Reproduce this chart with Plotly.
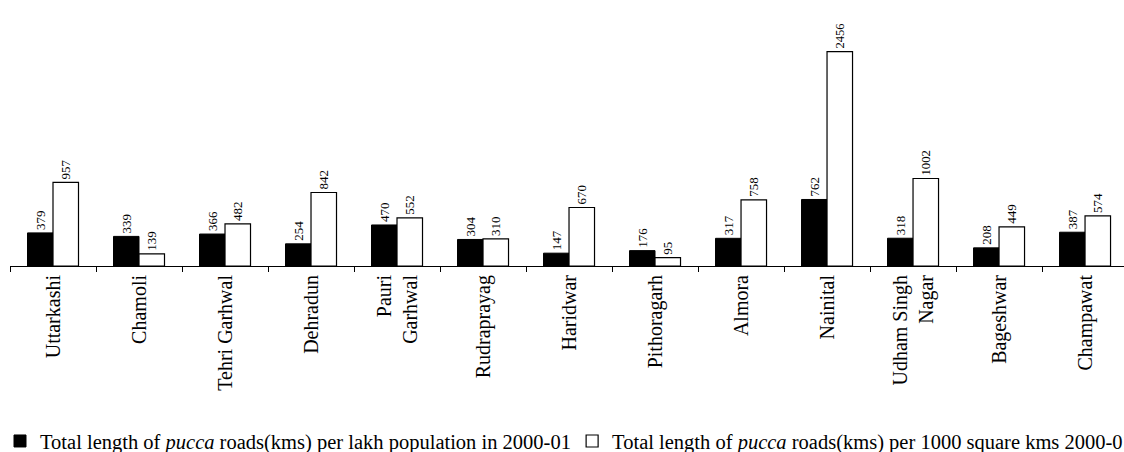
import plotly.graph_objects as go

districts = ["Uttarkashi", "Chamoli", "Tehri Garhwal", "Dehradun", "Pauri<br>Garhwal",
             "Rudraprayag", "Haridwar", "Pithoragarh", "Almora", "Nainital",
             "Udham Singh<br>Nagar", "Bageshwar", "Champawat"]
per_lakh_pop = [379, 339, 366, 254, 470, 304, 147, 176, 317, 762, 318, 208, 387]
per_1000_sqkm = [957, 139, 482, 842, 552, 310, 670, 95, 758, 2456, 1002, 449, 574]

name_pop = "Total length of <i>pucca</i> roads(kms) per lakh population in 2000-01"
name_area = "Total length of <i>pucca</i> roads(kms) per 1000 square kms 2000-01"

FONT = "Liberation Serif"

fig = go.Figure()
fig.add_trace(go.Bar(
    x=districts, y=per_lakh_pop, name=name_pop,
    marker=dict(color="black", line=dict(color="black", width=1)),
    text=per_lakh_pop, textposition="outside", textangle=-90,
    textfont=dict(family=FONT, size=13, color="black"),
    cliponaxis=False, legend="legend", showlegend=True,
))
fig.add_trace(go.Bar(
    x=districts, y=per_1000_sqkm, name=name_area,
    marker=dict(color="white", line=dict(color="black", width=1.2)),
    text=per_1000_sqkm, textposition="outside", textangle=-90,
    textfont=dict(family=FONT, size=13, color="black"),
    cliponaxis=False, legend="legend2", showlegend=True,
))

fig.update_layout(
    width=1124, height=452,
    margin=dict(l=10, r=0, t=10, b=186),
    paper_bgcolor="white", plot_bgcolor="white",
    barmode="group", bargap=0.407, bargroupgap=0,
    showlegend=True,
    font=dict(family=FONT, size=20, color="black"),
    xaxis=dict(
        type="category", range=[-0.5, 12.453], automargin=False,
        showline=True, linecolor="black", linewidth=1,
        ticks="outside", tickson="boundaries", ticklen=5, tickcolor="black",
        tickangle=-90, tickfont=dict(family=FONT, size=20, color="black"),
        showgrid=False, zeroline=False,
    ),
    yaxis=dict(
        range=[0, 2932], visible=False, showgrid=False, zeroline=False,
        automargin=False,
    ),
    legend=dict(
        xref="container", yref="container", x=-0.012, y=0.024,
        xanchor="left", yanchor="middle", orientation="h",
        font=dict(family=FONT, size=20.5, color="black"),
        bgcolor="rgba(0,0,0,0)", visible=True,
    ),
    legend2=dict(
        xref="container", yref="container", x=0.509, y=0.024,
        xanchor="left", yanchor="middle", orientation="h",
        font=dict(family=FONT, size=20.5, color="black"),
        bgcolor="rgba(0,0,0,0)", visible=True,
    ),
)

fig.write_html("out.html")
